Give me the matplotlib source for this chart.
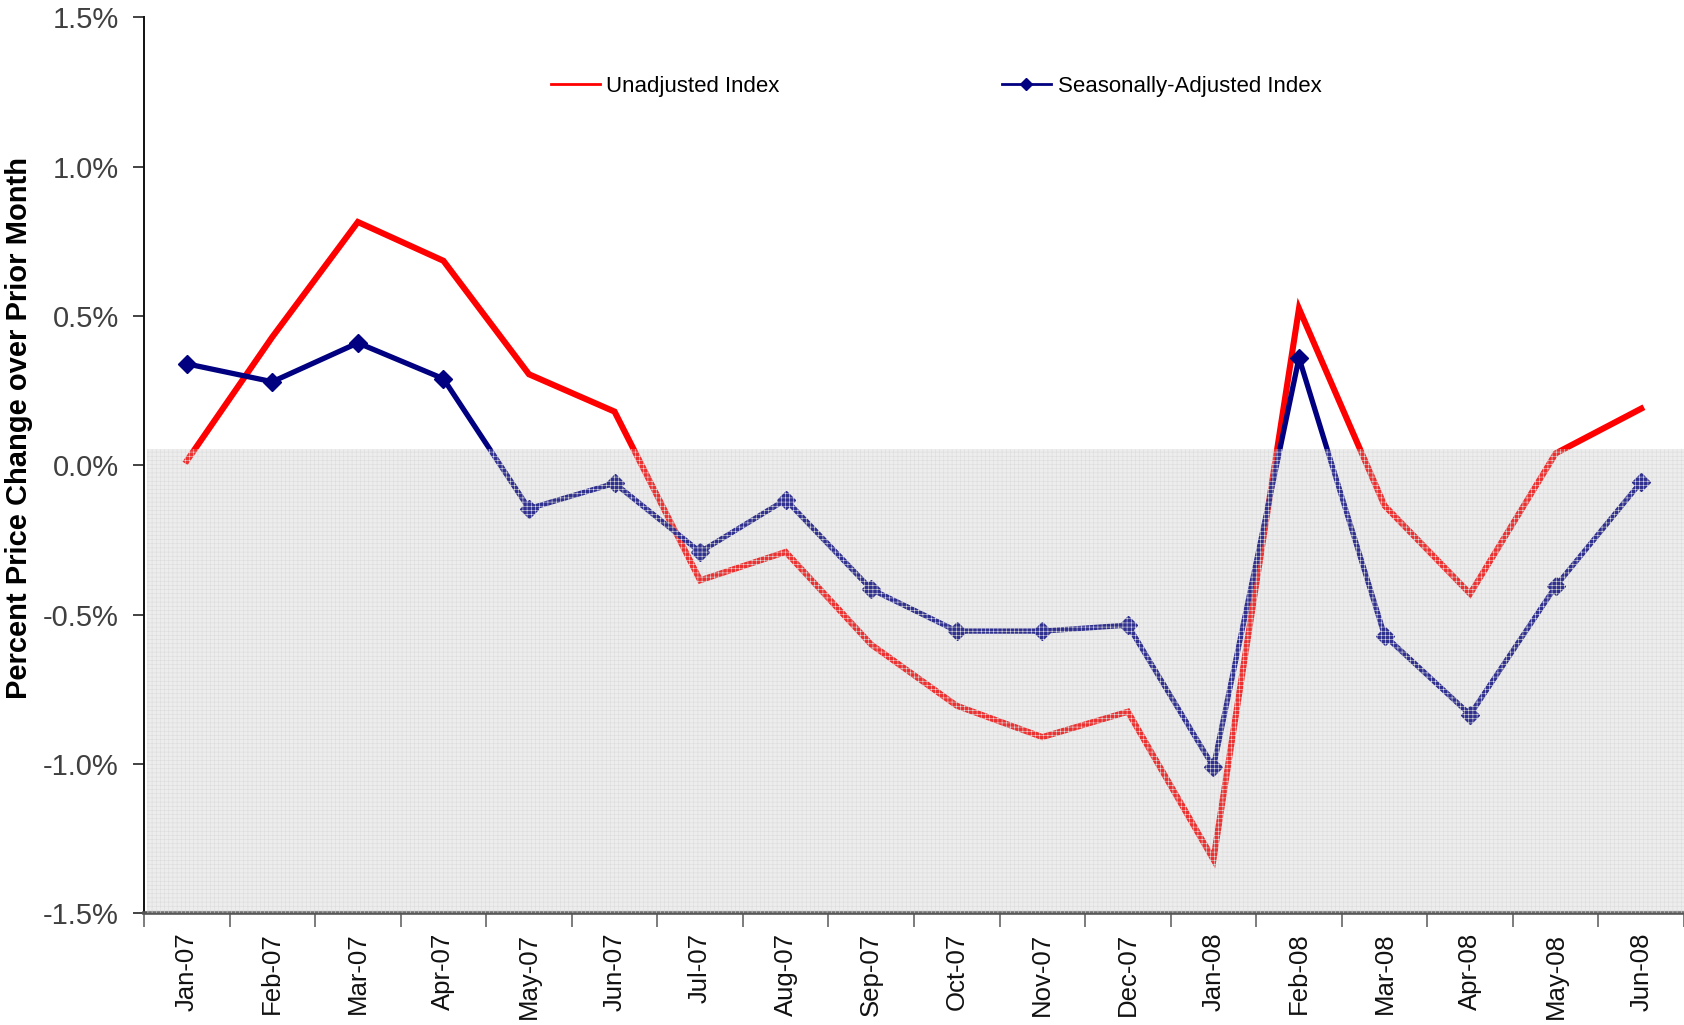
import numpy as np
import matplotlib.pyplot as plt
from matplotlib.lines import Line2D

# monthly % price change over prior month
months = ["Jan-07", "Feb-07", "Mar-07", "Apr-07", "May-07", "Jun-07",
          "Jul-07", "Aug-07", "Sep-07", "Oct-07", "Nov-07", "Dec-07",
          "Jan-08", "Feb-08", "Mar-08", "Apr-08", "May-08", "Jun-08"]
unadjusted = [0.015, 0.43, 0.815, 0.685, 0.305, 0.18,
              -0.385, -0.29, -0.60, -0.805, -0.91, -0.825,
              -1.32, 0.525, -0.135, -0.43, 0.04, 0.19]
seasonal = [0.34, 0.28, 0.41, 0.29, -0.145, -0.06,
            -0.29, -0.115, -0.415, -0.555, -0.555, -0.535,
            -1.01, 0.36, -0.57, -0.835, -0.405, -0.055]
yticks = [-1.5, -1.0, -0.5, 0.0, 0.5, 1.0, 1.5]

plt.rcParams['font.family'] = ['Liberation Sans', 'DejaVu Sans']
plt.rcParams['hatch.linewidth'] = 0.4
plt.rcParams['hatch.color'] = '#d4d4d4'

fig = plt.figure(figsize=(16.84, 10.25), dpi=100)
ax = fig.add_axes([0.0855, 0.109, 0.9145, 0.874])

x = np.arange(len(months))
ax.plot(x, unadjusted, color='#ff0000', lw=4.4, solid_joinstyle='miter', zorder=3)
ax.plot(x, seasonal, color='#000080', lw=3.8, marker='D', ms=9, zorder=4)

# gray shaded band sits on top of the lines (lines look faded inside it)
ax.axhspan(-1.5, 0.055, xmin=0.002, facecolor='#bcbcbc', alpha=0.26,
           edgecolor='none', zorder=5)
ax.axhspan(-1.5, 0.055, xmin=0.002, facecolor='none', hatch='++++',
           edgecolor='#dcdcdc', lw=0, zorder=5)

ax.set_xlim(-0.5, len(months) - 0.5)
ax.set_ylim(-1.5, 1.5)
ax.set_yticks(yticks)
ax.set_yticklabels([f"{v:.1f}%" for v in yticks], fontsize=21, color='#404040')
ax.tick_params(axis='y', length=8, width=1.2, color='#222222', pad=10)

ax.set_xticks(x)
ax.set_xticklabels(months, rotation=90, fontsize=18.5, color='#111111')
ax.set_xticks(np.arange(-0.5, len(months)), minor=True)
ax.tick_params(axis='x', which='major', length=0, pad=14)
ax.tick_params(axis='x', which='minor', length=10, width=1.2, color='#666666')

for s in ['top', 'right']:
    ax.spines[s].set_visible(False)
ax.spines['left'].set_color('#111111')
ax.spines['left'].set_linewidth(1.4)
ax.spines['bottom'].set_color('#555555')
ax.spines['bottom'].set_linewidth(2.6)

ax.set_ylabel("Percent Price Change over Prior Month", fontsize=21,
              fontweight='bold')
ax.yaxis.set_label_coords(-0.072, 0.542)

lf = dict(family=['Liberation Sans', 'DejaVu Sans'], size=16)
h1 = Line2D([], [], color='#ff0000', lw=2)
h2 = Line2D([], [], color='#000080', lw=2, marker='D', ms=6)
leg1 = fig.legend([h1], ["Unadjusted Index"], loc='center left',
                  bbox_to_anchor=(0.327, 0.916), frameon=False, prop=lf,
                  borderpad=0, borderaxespad=0, handlelength=2.2, handletextpad=0.3)
leg2 = fig.legend([h2], ["Seasonally-Adjusted Index"], loc='center left',
                  bbox_to_anchor=(0.595, 0.916), frameon=False, prop=lf,
                  borderpad=0, borderaxespad=0, handlelength=2.2, handletextpad=0.3)

fig.savefig("out.png", dpi=100)
